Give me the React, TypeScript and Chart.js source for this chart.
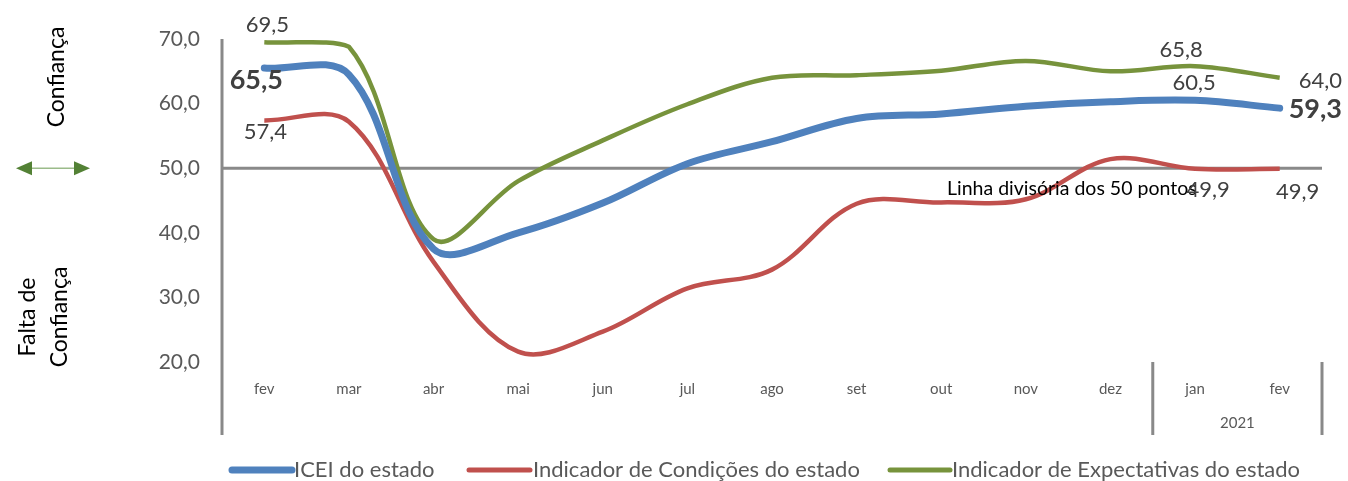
import React, { useEffect, useRef } from "react";
import { Chart, registerables } from "chart.js";

Chart.register(...registerables);

const categories = ["fev", "mar", "abr", "mai", "jun", "jul", "ago", "set", "out", "nov", "dez", "jan", "fev"];
const icei = [65.5, 64.5, 37.5, 40.0, 44.6, 50.7, 54.1, 57.7, 58.4, 59.6, 60.3, 60.5, 59.3];
const condicoes = [57.4, 57.2, 35.5, 21.6, 24.7, 31.4, 34.3, 44.5, 44.7, 45.2, 51.4, 49.9, 49.9];
const expectativas = [69.5, 68.8, 39.0, 48.0, 54.3, 59.9, 64.0, 64.4, 65.1, 66.6, 65.0, 65.8, 64.0];
const seriesNames = ["ICEI do estado", "Indicador de Condições do estado", "Indicador de Expectativas do estado"];
const yearLabel = "2021";
const dividerValue = 50;
const dividerText = "Linha divisória dos 50 pontos";

const BLUE = "#4F81BD";
const RED = "#C0504D";
const GREEN = "#77933C";
const AXIS = "#898989";
const FONT = "Lato, 'Open Sans', sans-serif";
const TENSION = 0.35;

const fmt = (v: number) => v.toFixed(1).replace(".", ",");

export default function App() {
  const ref = useRef<HTMLCanvasElement>(null);
  useEffect(() => {
    if (!ref.current) return;
    const decor = {
      id: "decor",
      beforeDatasetsDraw(chart: any) {
        const { ctx, chartArea, scales } = chart;
        const y50 = scales.y.getPixelForValue(dividerValue);
        ctx.save();
        ctx.strokeStyle = AXIS;
        ctx.lineWidth = 3;
        ctx.beginPath();
        ctx.moveTo(chartArea.left, y50);
        ctx.lineTo(chartArea.right, y50);
        ctx.stroke();
        ctx.restore();
      },
      afterDraw(chart: any) {
        const { ctx, chartArea, scales } = chart;
        const x = scales.x;
        const y = scales.y;
        const bottomExt = 435;
        ctx.save();
        ctx.strokeStyle = AXIS;
        ctx.lineWidth = 3;
        ctx.beginPath();
        ctx.moveTo(chartArea.left, chartArea.top);
        ctx.lineTo(chartArea.left, bottomExt);
        const sep = (x.getPixelForValue(10) + x.getPixelForValue(11)) / 2;
        ctx.moveTo(sep, chartArea.bottom);
        ctx.lineTo(sep, bottomExt);
        ctx.moveTo(chartArea.right, chartArea.bottom);
        ctx.lineTo(chartArea.right, bottomExt);
        ctx.stroke();

        ctx.fillStyle = "#595959";
        ctx.font = `15px ${FONT}`;
        ctx.textAlign = "center";
        ctx.textBaseline = "middle";
        ctx.fillText(yearLabel, (x.getPixelForValue(11) + x.getPixelForValue(12)) / 2, 423);

        ctx.fillStyle = "#000";
        ctx.font = `19.5px ${FONT}`;
        ctx.textAlign = "left";
        ctx.fillText(dividerText, 947, y.getPixelForValue(dividerValue) + 21);

        const metas = [0, 1, 2].map((i) => chart.getDatasetMeta(i).data);
        const dataArr = [icei, condicoes, expectativas];
        const n = categories.length - 1;
        const lab = (ds: number, idx: number, dx: number, dy: number, bold: boolean, align: CanvasTextAlign) => {
          const p = metas[ds][idx];
          ctx.font = bold ? `bold 27px ${FONT}` : `22px ${FONT}`;
          ctx.fillStyle = "#404040";
          ctx.textAlign = align;
          ctx.textBaseline = "middle";
          ctx.fillText(fmt(dataArr[ds][idx]), p.x + dx, p.y + dy);
        };
        lab(2, 0, 3, -17, false, "center");
        lab(0, 0, -8, 12, true, "center");
        lab(1, 0, 1, 12, false, "center");
        lab(2, n - 1, -14, -16, false, "center");
        lab(0, n - 1, -1, -17, false, "center");
        lab(1, n - 1, 13, 21, false, "center");
        lab(2, n, 19, 3, false, "left");
        lab(0, n, 9, 1, true, "left");
        lab(1, n, 18, 23, false, "center");

        ctx.fillStyle = "#000";
        ctx.font = `23px ${FONT}`;
        ctx.textAlign = "center";
        ctx.textBaseline = "middle";
        ctx.save();
        ctx.translate(57, 77);
        ctx.rotate(-Math.PI / 2);
        ctx.fillText("Confiança", 0, 0);
        ctx.restore();
        ctx.save();
        ctx.translate(44, 317);
        ctx.rotate(-Math.PI / 2);
        ctx.fillText("Falta de", 0, -16);
        ctx.fillText("Confiança", 0, 16);
        ctx.restore();

        const ay = y.getPixelForValue(dividerValue);
        ctx.strokeStyle = "#9BBB8A";
        ctx.lineWidth = 1.5;
        ctx.beginPath();
        ctx.moveTo(30, ay);
        ctx.lineTo(78, ay);
        ctx.stroke();
        ctx.fillStyle = "#538135";
        ctx.beginPath();
        ctx.moveTo(16, ay);
        ctx.lineTo(32, ay - 7);
        ctx.lineTo(32, ay + 7);
        ctx.closePath();
        ctx.fill();
        ctx.beginPath();
        ctx.moveTo(90, ay);
        ctx.lineTo(74, ay - 7);
        ctx.lineTo(74, ay + 7);
        ctx.closePath();
        ctx.fill();

        const ly = 470;
        const items = [
          { c: BLUE, w: 7, x0: 232, x1: 292, tx: 294 },
          { c: RED, w: 5, x0: 469, x1: 530, tx: 533 },
          { c: GREEN, w: 5, x0: 890, x1: 950, tx: 952 },
        ];
        items.forEach((it, i) => {
          ctx.strokeStyle = it.c;
          ctx.lineWidth = it.w;
          ctx.lineCap = "round";
          ctx.beginPath();
          ctx.moveTo(it.x0, ly);
          ctx.lineTo(it.x1, ly);
          ctx.stroke();
          ctx.fillStyle = "#595959";
          ctx.font = `22px ${FONT}`;
          ctx.textAlign = "left";
          ctx.textBaseline = "middle";
          ctx.fillText(seriesNames[i], it.tx, ly);
        });
        ctx.restore();
      },
    };

    const chart = new Chart(ref.current, {
      type: "line",
      data: {
        labels: categories,
        datasets: [
          { label: seriesNames[0], data: icei, borderColor: BLUE, borderWidth: 7, pointRadius: 0, tension: TENSION, fill: false, order: 1, borderCapStyle: "round" },
          { label: seriesNames[1], data: condicoes, borderColor: RED, borderWidth: 4.5, pointRadius: 0, tension: TENSION, fill: false, order: 3 },
          { label: seriesNames[2], data: expectativas, borderColor: GREEN, borderWidth: 4.5, pointRadius: 0, tension: TENSION, fill: false, order: 2 },
        ] as any,
      },
      options: {
        responsive: false,
        animation: false,
        events: [],
        layout: { padding: { top: 39, right: 26, left: 0, bottom: 0 } },
        plugins: { legend: { display: false }, tooltip: { enabled: false } },
        scales: {
          x: {
            type: "category",
            offset: true,
            grid: { display: false },
            border: { display: false },
            ticks: { color: "#595959", font: { size: 15, family: FONT }, padding: 10, maxRotation: 0, autoSkip: false },
            afterFit: (s: any) => { s.height = 119; },
          },
          y: {
            min: 20,
            max: 70,
            grid: { display: false },
            border: { display: false },
            ticks: { stepSize: 10, color: "#595959", font: { size: 21, family: FONT }, padding: 14, callback: (v: any) => fmt(Number(v)) },
            afterFit: (s: any) => { s.width = 222; },
          },
        },
      },
      plugins: [decor],
    });
    return () => chart.destroy();
  }, []);

  return (
    <div style={{ position: "absolute", left: 0, top: 0, width: 1348, height: 481, background: "#fff" }}>
      <canvas ref={ref} width={1348} height={481} />
    </div>
  );
}
